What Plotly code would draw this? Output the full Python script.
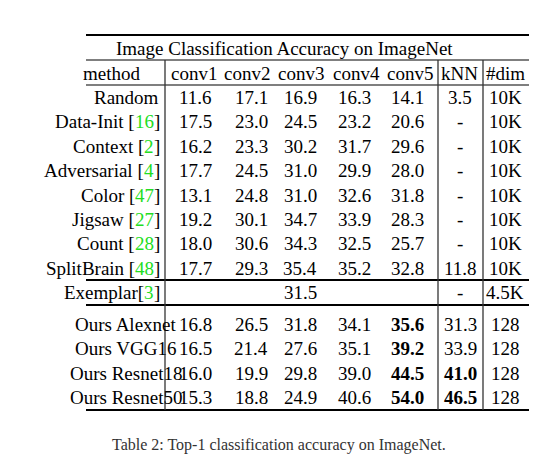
import plotly.graph_objects as go

title = "Image Classification Accuracy on ImageNet"
headers = ["method", "conv1", "conv2", "conv3", "conv4", "conv5", "kNN", "#dim"]
methods = ["Random", "Data-Init", "Context", "Adversarial", "Color", "Jigsaw", "Count", "SplitBrain",
           "Exemplar", "Ours Alexnet", "Ours VGG16", "Ours Resnet18", "Ours Resnet50"]
cites = ["", "16", "2", "4", "47", "27", "28", "48", "3", "", "", "", ""]
cite_space = [False, True, True, True, True, True, True, True, False, False, False, False, False]
conv = [
    [11.6, 17.1, 16.9, 16.3, 14.1],
    [17.5, 23.0, 24.5, 23.2, 20.6],
    [16.2, 23.3, 30.2, 31.7, 29.6],
    [17.7, 24.5, 31.0, 29.9, 28.0],
    [13.1, 24.8, 31.0, 32.6, 31.8],
    [19.2, 30.1, 34.7, 33.9, 28.3],
    [18.0, 30.6, 34.3, 32.5, 25.7],
    [17.7, 29.3, 35.4, 35.2, 32.8],
    None,
    [16.8, 26.5, 31.8, 34.1, 35.6],
    [16.5, 21.4, 27.6, 35.1, 39.2],
    [16.0, 19.9, 29.8, 39.0, 44.5],
    [15.3, 18.8, 24.9, 40.6, 54.0],
]
exemplar_value = 31.5
knn = ["3.5", "-", "-", "-", "-", "-", "-", "11.8", "-", "31.3", "33.9", "41.0", "46.5"]
dims = ["10K"] * 8 + ["4.5K", "128", "128", "128", "128"]
bold_conv5_rows = [9, 10, 11, 12]
bold_knn_rows = [11, 12]
caption_label = "Table 2: "
caption_text = "Top-1 classification accuracy on ImageNet."

FS = 19
header_x = [103, 186, 239, 293, 348, 402, 451, 497]
col_x = [118, 187, 243, 292, 346, 399, 452, 497]
row_y = [89, 113, 138, 162, 187, 211, 235, 260, 284, 316, 340, 365, 389]
FONT = "Liberation Serif, Times New Roman, serif"
GREEN = "#22dd22"

ann = []
def add(x, y, t, size=FS, anchor="center", color="black"):
    ann.append(dict(x=x, y=y, text=t, showarrow=False, xanchor=anchor, yanchor="middle",
                    font=dict(family=FONT, size=size, color=color)))

add(276, 40, title)
for c, h in enumerate(headers):
    add(header_x[c], 65, h)

RIGHT = 154
for r, m in enumerate(methods):
    if cites[r]:
        wb = 0.333 * FS
        wn = 0.5 * FS * len(cites[r])
        add(RIGHT, row_y[r], "]", anchor="right")
        add(RIGHT - wb, row_y[r], cites[r], anchor="right", color=GREEN)
        add(RIGHT - wb - wn, row_y[r], m + (" [" if cite_space[r] else "["), anchor="right")
    else:
        add(col_x[0], row_y[r], m)
    if conv[r] is None:
        add(col_x[3], row_y[r], f"{exemplar_value:.1f}")
    else:
        for c, v in enumerate(conv[r]):
            s = f"{v:.1f}"
            if c == 4 and r in bold_conv5_rows:
                s = f"<b>{s}</b>"
            add(col_x[c + 1], row_y[r], s)
    k = f"<b>{knn[r]}</b>" if r in bold_knn_rows else knn[r]
    add(col_x[6], row_y[r], k)
    add(col_x[7], row_y[r], dims[r])
add(271, 437, caption_label + caption_text, size=16, color="#333")

L, R = 78, 521
shapes = []
def hline(y, w):
    shapes.append(dict(type="line", x0=L, x1=R, y0=y, y1=y, line=dict(color="black", width=w)))
def vline(x, y0, y1):
    shapes.append(dict(type="line", x0=x, x1=x, y0=y0, y1=y1, line=dict(color="#333", width=1.3)))
hline(27, 2); hline(52, 1.2); hline(77, 1.2); hline(272, 1.8); hline(297, 1.8); hline(402, 2)
for x in [157, 430, 475]:
    vline(x, 52, 402)

fig = go.Figure()
fig.update_layout(width=541, height=456, margin=dict(l=0, r=0, t=0, b=0),
                  paper_bgcolor="white", plot_bgcolor="white",
                  xaxis=dict(range=[0, 541], visible=False, fixedrange=True),
                  yaxis=dict(range=[456, 0], visible=False, fixedrange=True),
                  annotations=ann, shapes=shapes, showlegend=False)
fig.write_html("out.html")
